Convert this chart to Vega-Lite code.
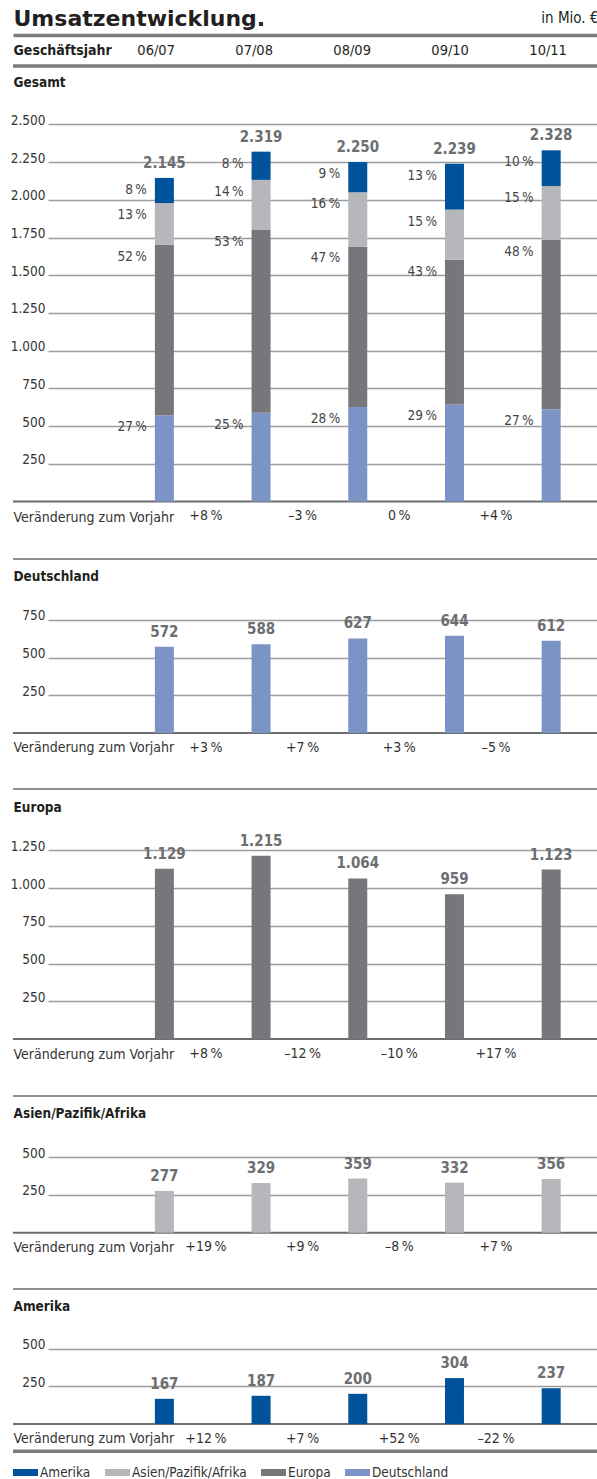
{
  "$schema": "https://vega.github.io/schema/vega-lite/v6.json",
  "padding": {"left": 10, "top": 7, "right": 0, "bottom": 0},
  "bounds": "flush",
  "spacing": 0,
  "config": {
    "view": {"stroke": null},
    "font": "DejaVu Sans Condensed, sans-serif",
    "locale": {"number": {"decimal": ",", "thousands": ".", "grouping": [3], "currency": ["", " €"]}},
    "axis": {"labelFont": "DejaVu Sans Condensed, sans-serif", "titleFont": "DejaVu Sans Condensed, sans-serif"},
    "axisX": {"labels": false, "ticks": false, "domain": false, "grid": false, "titleX": 0, "titleAlign": "left", "titleBaseline": "middle", "titleFontSize": 14, "titleColor": "#333333"}
  },
  "datasets": {
    "umsatz": [
      {"year": "06/07", "region": "Deutschland", "value": 572, "pct": "27\u2009%"},
      {"year": "06/07", "region": "Europa", "value": 1129, "pct": "52\u2009%"},
      {"year": "06/07", "region": "Asien/Pazifik/Afrika", "value": 277, "pct": "13\u2009%"},
      {"year": "06/07", "region": "Amerika", "value": 167, "pct": "8\u2009%"},
      {"year": "07/08", "region": "Deutschland", "value": 588, "pct": "25\u2009%"},
      {"year": "07/08", "region": "Europa", "value": 1215, "pct": "53\u2009%"},
      {"year": "07/08", "region": "Asien/Pazifik/Afrika", "value": 329, "pct": "14\u2009%"},
      {"year": "07/08", "region": "Amerika", "value": 187, "pct": "8\u2009%"},
      {"year": "08/09", "region": "Deutschland", "value": 627, "pct": "28\u2009%"},
      {"year": "08/09", "region": "Europa", "value": 1064, "pct": "47\u2009%"},
      {"year": "08/09", "region": "Asien/Pazifik/Afrika", "value": 359, "pct": "16\u2009%"},
      {"year": "08/09", "region": "Amerika", "value": 200, "pct": "9\u2009%"},
      {"year": "09/10", "region": "Deutschland", "value": 644, "pct": "29\u2009%"},
      {"year": "09/10", "region": "Europa", "value": 959, "pct": "43\u2009%"},
      {"year": "09/10", "region": "Asien/Pazifik/Afrika", "value": 332, "pct": "15\u2009%"},
      {"year": "09/10", "region": "Amerika", "value": 304, "pct": "13\u2009%"},
      {"year": "10/11", "region": "Deutschland", "value": 612, "pct": "27\u2009%"},
      {"year": "10/11", "region": "Europa", "value": 1123, "pct": "48\u2009%"},
      {"year": "10/11", "region": "Asien/Pazifik/Afrika", "value": 356, "pct": "15\u2009%"},
      {"year": "10/11", "region": "Amerika", "value": 237, "pct": "10\u2009%"}
    ],
    "veraenderung": [
      {"panel": "Gesamt", "from": "06/07", "label": "+8\u2009%"},
      {"panel": "Gesamt", "from": "07/08", "label": "–3\u2009%"},
      {"panel": "Gesamt", "from": "08/09", "label": "0\u2009%"},
      {"panel": "Gesamt", "from": "09/10", "label": "+4\u2009%"},
      {"panel": "Deutschland", "from": "06/07", "label": "+3\u2009%"},
      {"panel": "Deutschland", "from": "07/08", "label": "+7\u2009%"},
      {"panel": "Deutschland", "from": "08/09", "label": "+3\u2009%"},
      {"panel": "Deutschland", "from": "09/10", "label": "–5\u2009%"},
      {"panel": "Europa", "from": "06/07", "label": "+8\u2009%"},
      {"panel": "Europa", "from": "07/08", "label": "–12\u2009%"},
      {"panel": "Europa", "from": "08/09", "label": "–10\u2009%"},
      {"panel": "Europa", "from": "09/10", "label": "+17\u2009%"},
      {"panel": "Asien/Pazifik/Afrika", "from": "06/07", "label": "+19\u2009%"},
      {"panel": "Asien/Pazifik/Afrika", "from": "07/08", "label": "+9\u2009%"},
      {"panel": "Asien/Pazifik/Afrika", "from": "08/09", "label": "–8\u2009%"},
      {"panel": "Asien/Pazifik/Afrika", "from": "09/10", "label": "+7\u2009%"},
      {"panel": "Amerika", "from": "06/07", "label": "+12\u2009%"},
      {"panel": "Amerika", "from": "07/08", "label": "+7\u2009%"},
      {"panel": "Amerika", "from": "08/09", "label": "+52\u2009%"},
      {"panel": "Amerika", "from": "09/10", "label": "–22\u2009%"}
    ]
  },
  "resolve": {
    "scale": {"x": "independent", "y": "independent", "color": "shared"},
    "axis": {"x": "independent", "y": "independent"},
    "legend": {"color": "shared"}
  },
  "vconcat": [
    {
      "width": 587,
      "height": 31,
      "data": {"name": "umsatz"},
      "transform": [{"aggregate": [{"op": "count", "as": "n"}], "groupby": ["year"]}],
      "mark": {"type": "text", "fontSize": 14.5, "color": "#231f20", "baseline": "middle"},
      "encoding": {
        "x": {
          "field": "year", "type": "ordinal",
          "scale": {"type": "point", "range": [0, 587], "padding": 0.995, "align": 0.734},
          "axis": {"orient": "top", "title": "in Mio. €", "domain": true, "domainColor": "#7d7d80", "domainWidth": 3.5, "titleX": 585, "titleY": -18, "titleAlign": "right", "titleFontSize": 15, "titleFontWeight": "normal", "titleColor": "#231f20"}
        },
        "y": {
          "datum": "Geschäftsjahr", "type": "nominal",
          "axis": {"grid": false, "ticks": false, "tickSize": 0, "domain": false, "labelAlign": "left", "labelPadding": 0, "labelBaseline": "middle", "labelFontSize": 14, "labelFontWeight": "bold", "labelColor": "#231f20", "title": "Umsatzentwicklung.", "titleAngle": 0, "titleX": 0, "titleY": -10, "titleAlign": "left", "titleBaseline": "alphabetic", "titleFont": "DejaVu Sans", "titleFontSize": 22, "titleFontWeight": "bold", "titleColor": "#231f20"}
        },
        "text": {"field": "year"}
      }
    },
    {
      "width": 587,
      "height": 493,
      "data": {"name": "umsatz"},
      "resolve": {"axis": {"x": "independent"}},
      "layer": [
        {
          "data": {"values": [{}]},
          "mark": {"type": "rule", "color": "#7d7d80", "strokeWidth": 3.5},
          "encoding": {"y": {"datum": 2886.7, "type": "quantitative"}}
        },
        {
          "data": {"values": [{}]},
          "mark": {"type": "rule", "color": "#6d6e71", "strokeWidth": 2},
          "encoding": {"y": {"datum": 0, "type": "quantitative"}}
        },
        {
          "transform": [{"stack": "value", "groupby": ["year"], "as": ["v0", "v1"]}],
          "mark": {"type": "bar"},
          "encoding": {
            "x": {
              "field": "year", "type": "ordinal",
              "scale": {"type": "band", "range": [35, 587], "paddingInner": 0.8035, "paddingOuter": 0.756, "align": 0.731},
              "axis": {"orient": "bottom", "title": "Veränderung zum Vorjahr", "titleY": -42, "titleFontWeight": "normal"}
            },
            "y": {
              "field": "v1", "type": "quantitative",
              "scale": {"domain": [-380.4, 2886.7], "nice": false, "zero": false},
              "axis": {"title": null, "values": [250, 500, 750, 1000, 1250, 1500, 1750, 2000, 2250, 2500], "format": ",.0f", "grid": true, "gridColor": "#9d9d9f", "gridWidth": 1.3, "ticks": false, "tickSize": 0, "domain": false, "labelPadding": -32, "labelAlign": "right", "labelBaseline": "alphabetic", "labelFontSize": 13.5, "labelColor": "#333333"}
            },
            "y2": {"field": "v0"},
            "color": {
              "field": "region", "type": "nominal",
              "scale": {"domain": ["Amerika", "Asien/Pazifik/Afrika", "Europa", "Deutschland"], "range": ["#00529b", "#b6b7ba", "#77777b", "#7b94c5"]},
              "legend": {"title": null, "orient": "none", "legendX": 0, "legendY": 1425, "direction": "horizontal", "symbolType": "M-1,-0.28H1V0.28H-1Z", "symbolSize": 625, "symbolStrokeWidth": 0, "symbolOpacity": 1, "labelFont": "DejaVu Sans Condensed, sans-serif", "labelFontSize": 13.5, "labelColor": "#333333", "labelOffset": 2, "columnPadding": 14}
            }
          }
        },
        {
          "transform": [{"stack": "value", "groupby": ["year"], "as": ["v0", "v1"]}],
          "mark": {"type": "text", "align": "right", "baseline": "middle", "dx": -17.5, "dy": 12, "fontSize": 13.5, "color": "#444446"},
          "encoding": {
            "x": {"field": "year", "type": "ordinal", "axis": null},
            "y": {"field": "v1", "type": "quantitative"},
            "text": {"field": "pct"}
          }
        },
        {
          "transform": [{"aggregate": [{"op": "sum", "field": "value", "as": "total"}], "groupby": ["year"]}],
          "mark": {"type": "text", "baseline": "middle", "dy": -15, "fontSize": 15, "fontWeight": "bold", "color": "#6d6e71"},
          "encoding": {
            "x": {"field": "year", "type": "ordinal", "axis": null},
            "y": {"field": "total", "type": "quantitative"},
            "text": {"field": "total", "type": "quantitative", "format": ",.0f"}
          }
        },
        {
          "data": {"name": "veraenderung"},
          "transform": [{"filter": "datum.panel === 'Gesamt'"}],
          "mark": {"type": "text", "baseline": "middle", "dx": 41.5, "dy": 14.5, "fontSize": 14, "color": "#333333"},
          "encoding": {
            "x": {"field": "from", "type": "ordinal", "axis": {"orient": "top", "title": "Gesamt", "titleY": 16, "titleFontSize": 13.5, "titleFontWeight": "bold", "titleColor": "#231f20"}},
            "y": {"datum": 0, "type": "quantitative"},
            "text": {"field": "label"}
          }
        }
      ]
    },
    {
      "width": 587,
      "height": 230,
      "data": {"name": "umsatz"},
      "resolve": {"axis": {"x": "independent"}},
      "layer": [
        {
          "data": {"values": [{}]},
          "mark": {"type": "rule", "color": "#8e8e90", "strokeWidth": 2},
          "encoding": {"y": {"datum": 1153.1, "type": "quantitative"}}
        },
        {
          "data": {"values": [{}]},
          "mark": {"type": "rule", "color": "#6d6e71", "strokeWidth": 2},
          "encoding": {"y": {"datum": 0, "type": "quantitative"}}
        },
        {
          "transform": [{"filter": "datum.region === 'Deutschland'"}],
          "mark": {"type": "bar"},
          "encoding": {
            "x": {
              "field": "year", "type": "ordinal",
              "scale": {"type": "band", "range": [35, 587], "paddingInner": 0.8035, "paddingOuter": 0.756, "align": 0.731},
              "axis": {"orient": "bottom", "title": "Veränderung zum Vorjahr", "titleY": -42, "titleFontWeight": "normal"}
            },
            "y": {
              "field": "value", "type": "quantitative",
              "scale": {"domain": [-371.1, 1153.1], "nice": false, "zero": false},
              "axis": {"title": null, "values": [250, 500, 750], "format": ",.0f", "grid": true, "gridColor": "#9d9d9f", "gridWidth": 1.3, "ticks": false, "tickSize": 0, "domain": false, "labelPadding": -32, "labelAlign": "right", "labelBaseline": "alphabetic", "labelFontSize": 13.5, "labelColor": "#333333"}
            },
            "color": {"field": "region", "type": "nominal", "legend": null}
          }
        },
        {
          "transform": [{"filter": "datum.region === 'Deutschland'"}],
          "mark": {"type": "text", "baseline": "middle", "dy": -15, "fontSize": 15, "fontWeight": "bold", "color": "#6d6e71"},
          "encoding": {
            "x": {"field": "year", "type": "ordinal", "axis": null},
            "y": {"field": "value", "type": "quantitative"},
            "text": {"field": "value", "type": "quantitative", "format": ",.0f"}
          }
        },
        {
          "data": {"name": "veraenderung"},
          "transform": [{"filter": "datum.panel === 'Deutschland'"}],
          "mark": {"type": "text", "baseline": "middle", "dx": 41.5, "dy": 14.5, "fontSize": 14, "color": "#333333"},
          "encoding": {
            "x": {"field": "from", "type": "ordinal", "axis": {"orient": "top", "title": "Deutschland", "titleY": 17, "titleFontSize": 13.5, "titleFontWeight": "bold", "titleColor": "#231f20"}},
            "y": {"datum": 0, "type": "quantitative"},
            "text": {"field": "label"}
          }
        }
      ]
    },
    {
      "width": 587,
      "height": 307,
      "data": {"name": "umsatz"},
      "resolve": {"axis": {"x": "independent"}},
      "layer": [
        {
          "data": {"values": [{}]},
          "mark": {"type": "rule", "color": "#8e8e90", "strokeWidth": 2},
          "encoding": {"y": {"datum": 1656.7, "type": "quantitative"}}
        },
        {
          "data": {"values": [{}]},
          "mark": {"type": "rule", "color": "#6d6e71", "strokeWidth": 2},
          "encoding": {"y": {"datum": 0, "type": "quantitative"}}
        },
        {
          "transform": [{"filter": "datum.region === 'Europa'"}],
          "mark": {"type": "bar"},
          "encoding": {
            "x": {
              "field": "year", "type": "ordinal",
              "scale": {"type": "band", "range": [35, 587], "paddingInner": 0.8035, "paddingOuter": 0.756, "align": 0.731},
              "axis": {"orient": "bottom", "title": "Veränderung zum Vorjahr", "titleY": -42, "titleFontWeight": "normal"}
            },
            "y": {
              "field": "value", "type": "quantitative",
              "scale": {"domain": [-377.7, 1656.7], "nice": false, "zero": false},
              "axis": {"title": null, "values": [250, 500, 750, 1000, 1250], "format": ",.0f", "grid": true, "gridColor": "#9d9d9f", "gridWidth": 1.3, "ticks": false, "tickSize": 0, "domain": false, "labelPadding": -32, "labelAlign": "right", "labelBaseline": "alphabetic", "labelFontSize": 13.5, "labelColor": "#333333"}
            },
            "color": {"field": "region", "type": "nominal", "legend": null}
          }
        },
        {
          "transform": [{"filter": "datum.region === 'Europa'"}],
          "mark": {"type": "text", "baseline": "middle", "dy": -15, "fontSize": 15, "fontWeight": "bold", "color": "#6d6e71"},
          "encoding": {
            "x": {"field": "year", "type": "ordinal", "axis": null},
            "y": {"field": "value", "type": "quantitative"},
            "text": {"field": "value", "type": "quantitative", "format": ",.0f"}
          }
        },
        {
          "data": {"name": "veraenderung"},
          "transform": [{"filter": "datum.panel === 'Europa'"}],
          "mark": {"type": "text", "baseline": "middle", "dx": 41.5, "dy": 14.5, "fontSize": 14, "color": "#333333"},
          "encoding": {
            "x": {"field": "from", "type": "ordinal", "axis": {"orient": "top", "title": "Europa", "titleY": 18, "titleFontSize": 13.5, "titleFontWeight": "bold", "titleColor": "#231f20"}},
            "y": {"datum": 0, "type": "quantitative"},
            "text": {"field": "label"}
          }
        }
      ]
    },
    {
      "width": 587,
      "height": 193,
      "data": {"name": "umsatz"},
      "resolve": {"axis": {"x": "independent"}},
      "layer": [
        {
          "data": {"values": [{}]},
          "mark": {"type": "rule", "color": "#8e8e90", "strokeWidth": 2},
          "encoding": {"y": {"datum": 905.9, "type": "quantitative"}}
        },
        {
          "data": {"values": [{}]},
          "mark": {"type": "rule", "color": "#6d6e71", "strokeWidth": 2},
          "encoding": {"y": {"datum": 0, "type": "quantitative"}}
        },
        {
          "transform": [{"filter": "datum.region === 'Asien/Pazifik/Afrika'"}],
          "mark": {"type": "bar"},
          "encoding": {
            "x": {
              "field": "year", "type": "ordinal",
              "scale": {"type": "band", "range": [35, 587], "paddingInner": 0.8035, "paddingOuter": 0.756, "align": 0.731},
              "axis": {"orient": "bottom", "title": "Veränderung zum Vorjahr", "titleY": -42, "titleFontWeight": "normal"}
            },
            "y": {
              "field": "value", "type": "quantitative",
              "scale": {"domain": [-373.1, 905.9], "nice": false, "zero": false},
              "axis": {"title": null, "values": [250, 500], "format": ",.0f", "grid": true, "gridColor": "#9d9d9f", "gridWidth": 1.3, "ticks": false, "tickSize": 0, "domain": false, "labelPadding": -32, "labelAlign": "right", "labelBaseline": "alphabetic", "labelFontSize": 13.5, "labelColor": "#333333"}
            },
            "color": {"field": "region", "type": "nominal", "legend": null}
          }
        },
        {
          "transform": [{"filter": "datum.region === 'Asien/Pazifik/Afrika'"}],
          "mark": {"type": "text", "baseline": "middle", "dy": -15, "fontSize": 15, "fontWeight": "bold", "color": "#6d6e71"},
          "encoding": {
            "x": {"field": "year", "type": "ordinal", "axis": null},
            "y": {"field": "value", "type": "quantitative"},
            "text": {"field": "value", "type": "quantitative", "format": ",.0f"}
          }
        },
        {
          "data": {"name": "veraenderung"},
          "transform": [{"filter": "datum.panel === 'Asien/Pazifik/Afrika'"}],
          "mark": {"type": "text", "baseline": "middle", "dx": 41.5, "dy": 14.5, "fontSize": 14, "color": "#333333"},
          "encoding": {
            "x": {"field": "from", "type": "ordinal", "axis": {"orient": "top", "title": "Asien/Pazifik/Afrika", "titleY": 17, "titleFontSize": 13.5, "titleFontWeight": "bold", "titleColor": "#231f20"}},
            "y": {"datum": 0, "type": "quantitative"},
            "text": {"field": "label"}
          }
        }
      ]
    },
    {
      "width": 587,
      "height": 162.5,
      "data": {"name": "umsatz"},
      "resolve": {"axis": {"x": "independent"}},
      "layer": [
        {
          "data": {"values": [{}]},
          "mark": {"type": "rule", "color": "#8e8e90", "strokeWidth": 2},
          "encoding": {"y": {"datum": 894.6, "type": "quantitative"}}
        },
        {
          "data": {"values": [{}]},
          "mark": {"type": "rule", "color": "#6d6e71", "strokeWidth": 2},
          "encoding": {"y": {"datum": 0, "type": "quantitative"}}
        },
        {
          "data": {"values": [{}]},
          "mark": {"type": "rule", "color": "#7d7d80", "strokeWidth": 3.5},
          "encoding": {"y": {"datum": -180.5, "type": "quantitative"}}
        },
        {
          "transform": [{"filter": "datum.region === 'Amerika'"}],
          "mark": {"type": "bar"},
          "encoding": {
            "x": {
              "field": "year", "type": "ordinal",
              "scale": {"type": "band", "range": [35, 587], "paddingInner": 0.8035, "paddingOuter": 0.756, "align": 0.731},
              "axis": {"orient": "bottom", "title": "Veränderung zum Vorjahr", "titleY": -13, "titleFontWeight": "normal"}
            },
            "y": {
              "field": "value", "type": "quantitative",
              "scale": {"domain": [-182.2, 894.6], "nice": false, "zero": false},
              "axis": {"title": null, "values": [250, 500], "format": ",.0f", "grid": true, "gridColor": "#9d9d9f", "gridWidth": 1.3, "ticks": false, "tickSize": 0, "domain": false, "labelPadding": -32, "labelAlign": "right", "labelBaseline": "alphabetic", "labelFontSize": 13.5, "labelColor": "#333333"}
            },
            "color": {"field": "region", "type": "nominal", "legend": null}
          }
        },
        {
          "transform": [{"filter": "datum.region === 'Amerika'"}],
          "mark": {"type": "text", "baseline": "middle", "dy": -15, "fontSize": 15, "fontWeight": "bold", "color": "#6d6e71"},
          "encoding": {
            "x": {"field": "year", "type": "ordinal", "axis": null},
            "y": {"field": "value", "type": "quantitative"},
            "text": {"field": "value", "type": "quantitative", "format": ",.0f"}
          }
        },
        {
          "data": {"name": "veraenderung"},
          "transform": [{"filter": "datum.panel === 'Amerika'"}],
          "mark": {"type": "text", "baseline": "middle", "dx": 41.5, "dy": 14.5, "fontSize": 14, "color": "#333333"},
          "encoding": {
            "x": {"field": "from", "type": "ordinal", "axis": {"orient": "top", "title": "Amerika", "titleY": 17, "titleFontSize": 13.5, "titleFontWeight": "bold", "titleColor": "#231f20"}},
            "y": {"datum": 0, "type": "quantitative"},
            "text": {"field": "label"}
          }
        }
      ]
    }
  ]
}
